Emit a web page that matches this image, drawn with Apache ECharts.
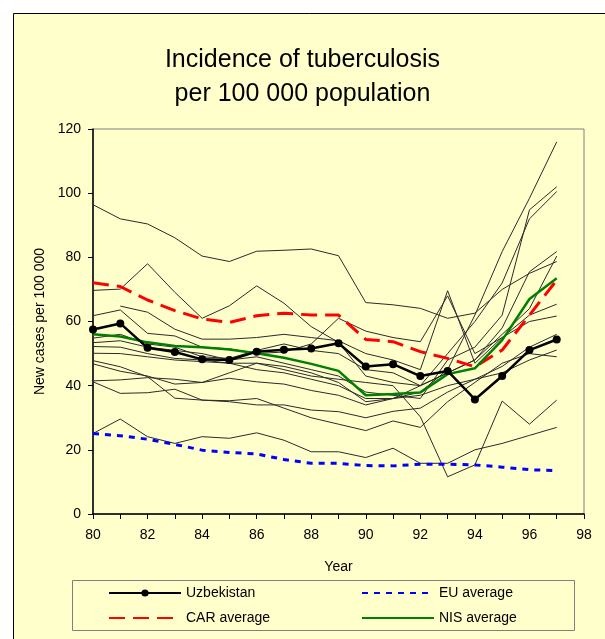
<!DOCTYPE html>
<html>
<head>
<meta charset="utf-8">
<script src="https://cdn.jsdelivr.net/npm/echarts@6/dist/echarts.min.js"></script>
<style>
  html, body { margin: 0; padding: 0; background: #ffffff; }
  #chart { width: 605px; height: 639px; }
</style>
</head>
<body>
<div id="chart"></div>
<script>
// 年份 (x 轴)
var years = [80, 81, 82, 83, 84, 85, 86, 87, 88, 89, 90, 91, 92, 93, 94, 95, 96, 97];
var yTicks = [0, 20, 40, 60, 80, 100, 120];

// 重点序列
var uzbekistan = [57.5, 59.4, 51.8, 50.5, 48.2, 48.0, 50.6, 51.2, 51.6, 53.2, 46.0, 46.7, 43.0, 44.6, 35.7, 43.0, 51.1, 54.4];
var euAverage  = [25.1, 24.4, 23.3, 21.7, 19.9, 19.2, 18.7, 17.0, 15.8, 15.8, 15.1, 15.0, 15.5, 15.5, 15.3, 14.6, 13.8, 13.5];
var carAverage = [72.1, 70.9, 66.7, 63.4, 60.8, 59.7, 61.8, 62.6, 62.0, 62.0, 54.4, 53.7, 50.6, 48.5, 45.9, 51.1, 62.0, 72.9];
var nisAverage = [56.0, 55.3, 53.5, 52.4, 52.0, 51.3, 50.1, 48.7, 46.8, 44.6, 37.0, 37.4, 37.9, 43.6, 45.4, 54.2, 67.0, 73.5];

// 其他国家 (细线), null = 无数据
var countryA = [96.4, 92.0, 90.4, 86.1, 80.4, 78.7, 81.9, 82.2, 82.6, 80.5, 65.9, 65.2, 64.1, 61.0, 62.6, 70.0, 75.0, 78.7];
var countryB = [69.7, 70.1, 78.0, 69.1, 61.0, 64.9, 71.1, 65.7, 58.4, 53.5, 43.0, 41.0, 40.0, 44.0, 48.0, 58.0, 75.5, 81.8];
var countryC = [61.8, 63.6, 56.3, 55.5, 52.0, 51.5, 50.0, 50.5, 53.0, 61.0, 57.0, 55.0, 53.7, 68.0, 50.0, 55.0, 62.0, 65.4];
var countryD = [null, 64.8, 62.9, 57.6, 54.5, 54.5, 55.0, 56.0, 55.0, 54.0, 50.0, 48.0, 45.0, 69.6, 47.0, 55.0, 60.0, 61.7];
var countryE = [54.8, 56.0, 53.0, 52.0, 49.0, 48.5, 51.0, 53.0, 51.0, 50.0, 45.0, 44.0, 40.0, 50.0, 60.0, 72.0, 92.0, 100.5];
var countryF = [53.4, 54.0, 52.0, 51.0, 50.0, 48.0, 49.0, 47.0, 45.0, 43.0, 38.0, 37.0, 36.0, 48.0, 52.0, 62.0, 94.8, 102.0];
var countryG = [52.2, 52.0, 50.0, 48.5, 48.0, 47.0, 45.0, 44.0, 42.0, 40.0, 36.0, 36.0, 38.0, 45.0, 62.0, 81.8, 98.4, 116.0];
var countryH = [50.1, 50.0, 49.0, 48.0, 47.5, 47.0, 47.0, 46.0, 44.0, 41.0, 35.0, 36.0, 40.0, 44.0, 48.0, 56.0, 64.0, 80.4];
var countryI = [47.8, 45.9, 42.8, 36.1, 35.5, 35.0, 34.0, 34.0, 32.4, 31.9, 30.0, 32.0, 33.0, 38.0, 42.0, 46.0, 52.0, 56.0];
var countryJ = [46.8, 44.5, 43.0, 40.5, 41.0, 44.0, 47.0, 45.0, 43.0, 42.0, 41.0, 40.0, 30.3, 11.6, 15.3, 35.2, 28.0, 35.5];
var countryK = [41.5, 41.8, 42.5, 42.0, 41.0, 42.3, 41.2, 40.5, 38.5, 37.0, 34.0, 36.0, 37.0, 40.0, 42.0, 44.0, 48.0, 51.1];
var countryL = [41.2, 37.6, 37.8, 38.9, 35.5, 35.3, 36.0, 33.0, 30.0, 28.0, 26.0, 29.0, 27.0, 35.0, 41.0, 47.0, 50.0, 49.0];
var countryM = [25.1, 29.6, 24.1, 22.0, 24.1, 23.6, 25.3, 23.0, 19.4, 19.4, 17.6, 20.5, 15.8, 15.8, 20.0, 22.0, 24.5, 27.0];

var countries = [countryA, countryB, countryC, countryD, countryE, countryF, countryG,
                 countryH, countryI, countryJ, countryK, countryL, countryM];

function pairs(vals) {
    return years.map(function (y, i) { return [y, vals[i]]; });
}

var font = 'Liberation Sans, Arial, sans-serif';
var chart = echarts.init(document.getElementById('chart'));

var series = [];
countries.forEach(function (c, i) {
    series.push({
        name: 'country' + i,
        type: 'line',
        data: pairs(c),
        symbol: 'none',
        connectNulls: false,
        lineStyle: { color: '#2a2a2a', width: 1 },
        z: 2
    });
});
series.push({
    name: 'EU average', type: 'line', data: pairs(euAverage), symbol: 'none',
    lineStyle: { color: '#0000ff', width: 3, type: [6, 6] },
    itemStyle: { color: '#0000ff' }, z: 3
});
series.push({
    name: 'CAR average', type: 'line', data: pairs(carAverage), symbol: 'none',
    lineStyle: { color: '#ff0000', width: 3, type: [16, 8] },
    itemStyle: { color: '#ff0000' }, z: 3
});
series.push({
    name: 'NIS average', type: 'line', data: pairs(nisAverage), symbol: 'none',
    lineStyle: { color: '#008000', width: 2.5 },
    itemStyle: { color: '#008000' }, z: 4
});
series.push({
    name: 'Uzbekistan', type: 'line', data: pairs(uzbekistan),
    symbol: 'circle', symbolSize: 8, showSymbol: true,
    lineStyle: { color: '#000000', width: 2.5 },
    itemStyle: { color: '#000000' }, z: 5
});

var legendCommon = {
    orient: 'vertical',
    padding: 0,
    itemWidth: 72,
    itemHeight: 9,
    itemGap: 11,
    selectedMode: false,
    textStyle: { fontFamily: font, fontSize: 14, color: '#000' }
};
var hideDot = { opacity: 0 };

var option = {
    animation: false,
    backgroundColor: '#ffffff',
    graphic: [
        {
            type: 'rect', z: -10,
            shape: { x: 13.5, y: 13.5, width: 620, height: 660 },
            style: { fill: '#ffffcc', stroke: '#000', lineWidth: 1 }
        },
        {
            type: 'rect', z: -5,
            shape: { x: 72.5, y: 580.5, width: 502, height: 50 },
            style: { fill: 'none', stroke: '#808080', lineWidth: 1 }
        }
    ],
    title: {
        text: 'Incidence of tuberculosis\nper 100 000 population',
        left: 'center',
        top: 38,
        textStyle: { fontFamily: font, fontSize: 25, fontWeight: 'normal', color: '#000', lineHeight: 34 }
    },
    legend: [
        Object.assign({ left: 108, top: 586, data: [
            { name: 'Uzbekistan' },
            { name: 'CAR average', itemStyle: hideDot }
        ] }, legendCommon),
        Object.assign({ left: 361, top: 586, data: [
            { name: 'EU average', itemStyle: hideDot },
            { name: 'NIS average', itemStyle: hideDot }
        ] }, legendCommon)
    ],
    grid: {
        left: 93, top: 129, right: 21, bottom: 125,
        show: true, borderColor: '#808080', borderWidth: 1, backgroundColor: 'transparent'
    },
    xAxis: {
        type: 'value', min: 80, max: 98, interval: 1,
        name: 'Year', nameLocation: 'middle', nameGap: 46,
        nameTextStyle: { fontFamily: font, fontSize: 14, color: '#000' },
        axisLine: { lineStyle: { color: '#000', width: 1.5 } },
        axisTick: { show: true, inside: false, length: 5, lineStyle: { color: '#000' } },
        axisLabel: {
            fontFamily: font, fontSize: 14, color: '#000', margin: 14,
            formatter: function (v) { return v % 2 === 0 ? String(v) : ''; }
        },
        splitLine: { show: false }
    },
    yAxis: {
        type: 'value', min: 0, max: 120, interval: 20,
        name: 'New cases per 100 000', nameLocation: 'middle', nameGap: 46, nameRotate: 90,
        nameTextStyle: { fontFamily: font, fontSize: 14, color: '#000' },
        axisLine: { show: true, lineStyle: { color: '#000', width: 1.5 } },
        axisTick: { show: true, inside: false, length: 5, lineStyle: { color: '#000' } },
        axisLabel: {
            fontFamily: font, fontSize: 14, color: '#000', margin: 12,
            formatter: function (v) { return yTicks.indexOf(v) >= 0 ? String(v) : ''; }
        },
        splitLine: { show: false }
    },
    series: series
};

chart.setOption(option);
</script>
</body>
</html>
